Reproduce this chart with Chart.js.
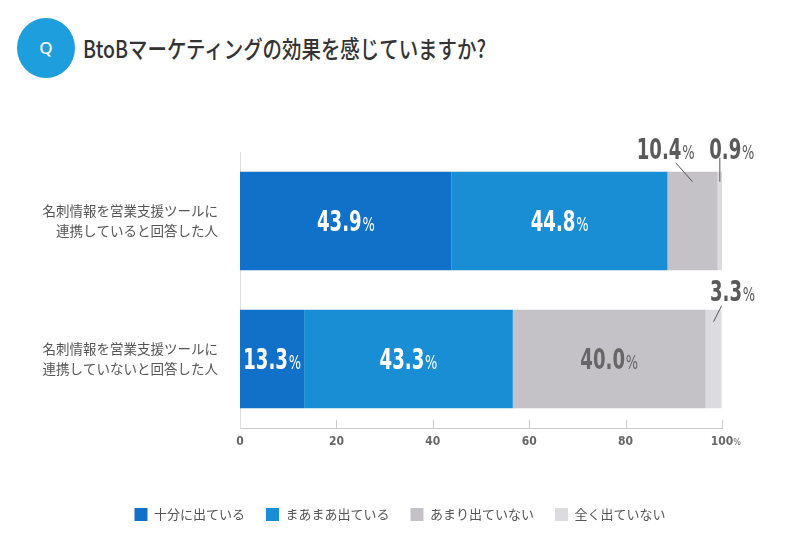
<!DOCTYPE html>
<html lang="ja">
<head>
<meta charset="utf-8">
<script src="https://cdn.jsdelivr.net/npm/chart.js@4/dist/chart.umd.min.js"></script>
<style>
  html, body { margin: 0; padding: 0; background: #fff; }
  #wrap { position: relative; width: 800px; height: 560px; }
  #q { position: absolute; left: 17px; top: 18px; width: 58px; height: 60px; border-radius: 50%;
       background: #1E9EDC; color: #fff; font: 500 17px "Noto Sans", sans-serif;
       text-align: center; line-height: 60px; }
  #title { position: absolute; left: 83px; top: 30px; font: 500 24px "Noto Sans CJK JP", sans-serif;
           color: #333; white-space: nowrap; transform-origin: left top; transform: scaleX(0.81); }
  canvas { position: absolute; left: 0; top: 0; }
</style>
</head>
<body>
<div id="wrap">
  <div id="q">Q</div>
  <div id="title">BtoBマーケティングの効果を感じていますか?</div>
  <canvas id="myChart" width="800" height="560"></canvas>
</div>
<script>
// 項目
var categories = [
  ['名刺情報を営業支援ツールに', '連携していると回答した人'],
  ['名刺情報を営業支援ツールに', '連携していないと回答した人']
];
// 凡例
var seriesNames = ['十分に出ている', 'まあまあ出ている', 'あまり出ていない', '全く出ていない'];
// 回答の割合(%)
var juubun  = [43.9, 13.3];
var maamaa  = [44.8, 43.3];
var amari   = [10.4, 40.0];
var mattaku = [0.9, 3.3];
// 目盛り
var xTicks = [0, 20, 40, 60, 80, 100];

var colors = ['#1170C8', '#1A8ED4', '#C4C2C6', '#DCDBDF'];
var labelColors = ['#fff', '#fff', '#666', '#666'];
var numFont = '"DejaVu Sans Condensed", "DejaVu Sans", sans-serif';
var squeeze = 0.72;

// 狭い区間のラベルは外側に出す (dataset-index : ずらし量)
var outside = {
  '2-0': { dx: -27, dy: -23, lx1: -17, ly1: -9, lx2: 0, ly2: 10 },
  '3-0': { dx: 12, dy: -23, lx1: 0, ly1: -14, lx2: 0, ly2: 10 },
  '3-1': { dx: 19, dy: -19, lx1: 8, ly1: -4, lx2: 0, ly2: 12 }
};

// 数字は大きく、%は小さく (縦長に見せるため横方向を縮める)
function drawValue(ctx, text, cx, cy, color) {
  ctx.save();
  ctx.fillStyle = color;
  ctx.textBaseline = 'alphabetic';
  ctx.textAlign = 'left';
  ctx.font = 'bold 28px ' + numFont;
  var w1 = ctx.measureText(text).width;
  ctx.font = '20px ' + numFont;
  var w2 = ctx.measureText('%').width;
  var total = (w1 + w2 + 1) * squeeze;
  ctx.translate(cx - total / 2, cy + 10);
  ctx.scale(squeeze, 1);
  ctx.font = 'bold 28px ' + numFont;
  ctx.fillText(text, 0, 0);
  ctx.font = '20px ' + numFont;
  ctx.fillText('%', w1 + 1, 0);
  ctx.restore();
}

var valuePlugin = {
  id: 'values',
  afterLayout: function(chart) {
    // 凡例は画面全体の中央に
    chart.legend.left = 0;
    chart.legend.right = chart.width;
    chart.legend.width = chart.width;
  },
  afterDatasetsDraw: function(chart) {
    var ctx = chart.ctx;
    chart.data.datasets.forEach(function(ds, i) {
      var meta = chart.getDatasetMeta(i);
      meta.data.forEach(function(bar, j) {
        var v = ds.data[j];
        var cx = (bar.x + bar.base) / 2;
        var top = bar.y - bar.height / 2;
        var o = outside[i + '-' + j];
        if (o) {
          ctx.save();
          ctx.strokeStyle = '#555';
          ctx.lineWidth = 1;
          ctx.beginPath();
          ctx.moveTo(cx + o.lx1, top + o.ly1);
          ctx.lineTo(cx + o.lx2, top + o.ly2);
          ctx.stroke();
          ctx.restore();
          drawValue(ctx, v.toFixed(1), cx + o.dx, top + o.dy, '#5a5a5a');
        } else {
          drawValue(ctx, v.toFixed(1), cx, bar.y, labelColors[i]);
        }
      });
    });
  },
  afterDraw: function(chart) {
    // 下の軸の目盛り線と「%」
    var ctx = chart.ctx;
    var xs = chart.scales.x;
    var yB = chart.chartArea.bottom;
    ctx.save();
    ctx.strokeStyle = '#ccc';
    ctx.lineWidth = 1;
    xTicks.forEach(function(t) {
      if (t == 0) return;
      var px = Math.round(xs.getPixelForValue(t)) + 0.5;
      ctx.beginPath();
      ctx.moveTo(px, yB - 8);
      ctx.lineTo(px, yB);
      ctx.stroke();
    });
    ctx.font = 'bold 12px ' + numFont;
    var w = ctx.measureText('100').width;
    ctx.fillStyle = '#666';
    ctx.font = '9px ' + numFont;
    ctx.textBaseline = 'alphabetic';
    ctx.fillText('%', xs.getPixelForValue(100) + w / 2, yB + 17);
    ctx.restore();
  }
};

var ctx = document.getElementById('myChart');
var allData = [juubun, maamaa, amari, mattaku];
var data = {
  labels: categories,
  datasets: seriesNames.map(function(name, i) {
    return {
      label: name,
      data: allData[i],
      backgroundColor: colors[i],
      borderWidth: 0,
      barPercentage: 0.714,
      categoryPercentage: 1
    };
  })
};

new Chart(ctx, {
  type: 'bar',
  data: data,
  plugins: [valuePlugin],
  options: {
    indexAxis: 'y',
    responsive: false,
    animation: false,
    layout: { padding: { top: 152, right: 78, left: 0, bottom: 29 } },
    plugins: {
      tooltip: { enabled: false },
      legend: {
        position: 'bottom',
        labels: {
          boxWidth: 13, boxHeight: 13, padding: 21, color: '#555',
          font: { family: '"Noto Sans CJK JP", sans-serif', size: 13 }
        }
      }
    },
    scales: {
      x: {
        stacked: true, min: 0, max: 100,
        afterBuildTicks: function(scale) {
          scale.ticks = xTicks.map(function(v) { return { value: v }; });
        },
        afterFit: function(scale) { scale.height = 59; },
        grid: { display: false, drawTicks: false },
        border: { color: '#ccc' },
        ticks: {
          padding: 7, color: '#666',
          font: { family: numFont, size: 12, weight: 'bold' }
        }
      },
      y: {
        stacked: true,
        afterFit: function(scale) { scale.width = 240; },
        grid: { display: false, drawTicks: false },
        border: { color: '#ddd' },
        ticks: {
          padding: 22, color: '#555',
          font: { family: '"Noto Sans CJK JP", sans-serif', size: 13.5, lineHeight: 1.45 }
        }
      }
    }
  }
});
</script>
</body>
</html>
